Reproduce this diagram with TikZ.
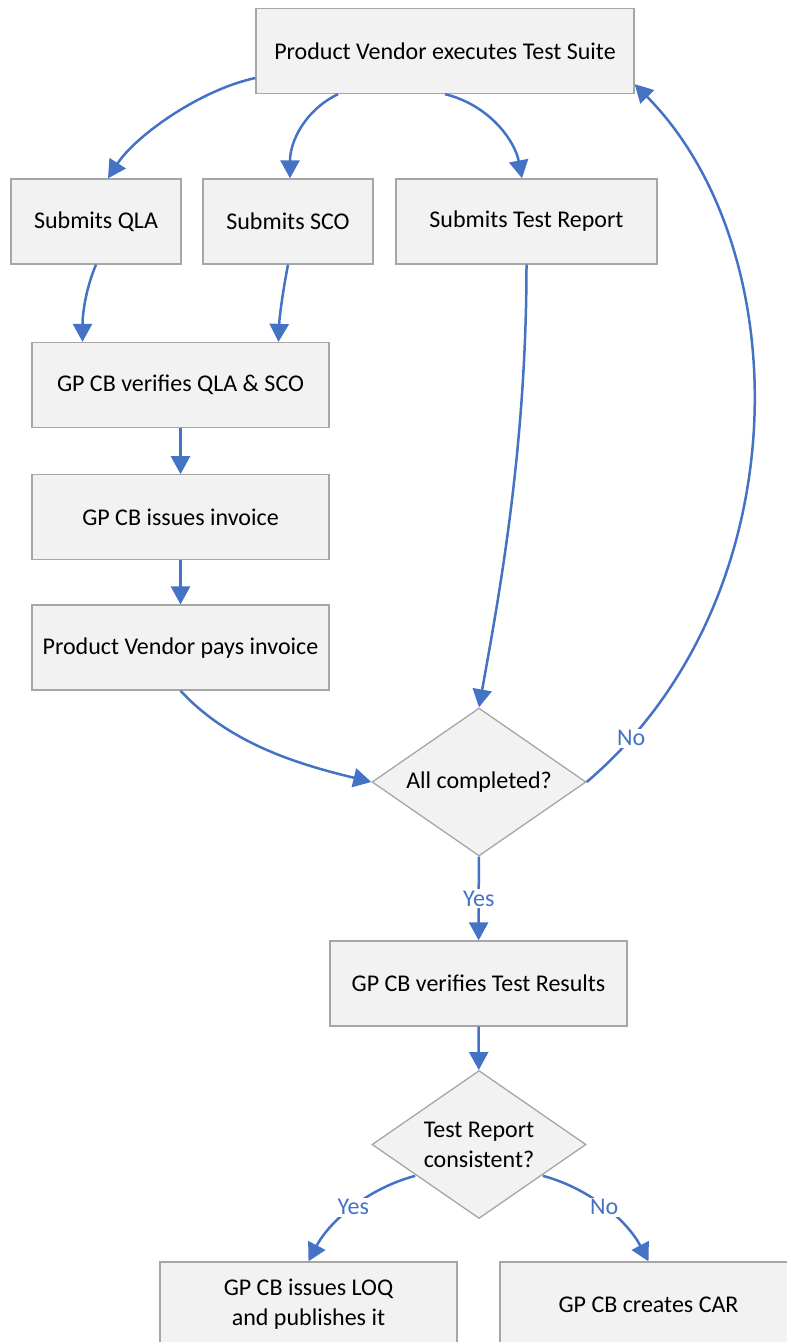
\documentclass[tikz,border=0pt]{standalone}
\usepackage{fontspec}
\setmainfont{Carlito}
\usepackage{tikz}
\usetikzlibrary{arrows.meta,shapes.geometric,positioning}
\definecolor{flowblue}{HTML}{4472C4}
\definecolor{boxfill}{HTML}{F2F2F2}
\definecolor{boxline}{HTML}{A6A6A6}

\begin{document}
\begin{tikzpicture}
			[x=1pt, y=-1pt, inner sep=0pt,
			every node/.style	= {font=\fontsize{24}{30}\selectfont},
			process/.style		= {draw=boxline, line width=1.3pt, fill=boxfill, rectangle, align=center, minimum width=297pt, minimum height=85pt},
			decision/.style		= {draw=boxline, line width=1.3pt, fill=boxfill, diamond, aspect=1.45, align=center, minimum width=214pt, minimum height=148pt},
			flow/.style			= {draw=flowblue, line width=2.5pt, -{Triangle[length=18pt,width=19pt]}},
			answer/.style		= {fill=white, text=flowblue, inner sep=2pt}]

			\clip (0,0) rectangle (787,1342);

			\node [process, minimum width=378pt]	at (445,51)		(suite)		{Product Vendor executes Test Suite};
			\node [process, minimum width=170pt]	at (96,221.5)	(qla)		{Submits QLA};
			\node [process, minimum width=170pt]	at (288,221.5)	(sco)		{Submits SCO};
			\node [process, minimum width=261pt]	at (526.5,221.5)	(report)	{Submits Test Report};
			\node [process]	at (180.5,385)			(verify)	{GP CB verifies QLA \& SCO};
			\node [process]	[below = 46pt of verify]	(invoice)	{GP CB issues invoice};
			\node [process]	[below = 44pt of invoice]	(pays)		{Product Vendor pays invoice};
			\node [decision]	at (479,782)		(done)		{All completed?};
			\node [process]	at (478.5,983.5)		(results)	{GP CB verifies Test Results};
			\node [decision]	at (479,1144.5)		(check)		{Test Report\\consistent?};
			\node [process]	at (308.5,1304.5)		(loq)		{GP CB issues LOQ\\and publishes it};
			\node [process]	at (648.5,1304.5)		(car)		{GP CB creates CAR};

			% out of the test suite
			\draw [flow] ([yshift=-27pt]suite.west) .. controls +(-56,12) and +(27,-42) .. ([xshift=12pt]qla.north);
			\draw [flow] ([xshift=-107pt]suite.south) .. controls +(-33,16) and +(0,-37) .. ([xshift=2pt]sco.north);
			\draw [flow] (suite.south) .. controls +(45,11) and +(-7,-37) .. ([xshift=-4.5pt]report.north);

			% payment branch
			\draw [flow] (qla.south) .. controls +(-11,26) and +(0,-26) .. ([xshift=-98pt]verify.north);
			\draw [flow] (sco.south) .. controls +(-5,26) and +(1,-26) .. ([xshift=98pt]verify.north);
			\draw [flow] (verify) -- (invoice);
			\draw [flow] (invoice) -- (pays);
			\draw [flow] (pays.south) .. controls +(50,54) and +(-70,-17) .. (done.west);
			\draw [flow] (report.south) .. controls +(0,186) and +(19,-106) .. (done.north);

			% loop back
			\draw [flow] (done.east) .. controls +(214,-182) and +(164,166) .. ([yshift=10pt]suite.south east)
				node [answer, pos=0.075] {No};

			\draw [flow] (done) -- node [answer] {Yes} (results);
			\draw [flow] (results) -- (check);
			\draw [flow] ([xshift=-10pt,yshift=6pt]check.south west) .. controls +(-45,12) and +(22,-42) .. (loq.north)
				node [answer, pos=0.5] {Yes};
			\draw [flow] ([xshift=10pt,yshift=6pt]check.south east) .. controls +(45,12) and +(-22,-42) .. (car.north)
				node [answer, pos=0.5] {No};
\end{tikzpicture}
\end{document}
